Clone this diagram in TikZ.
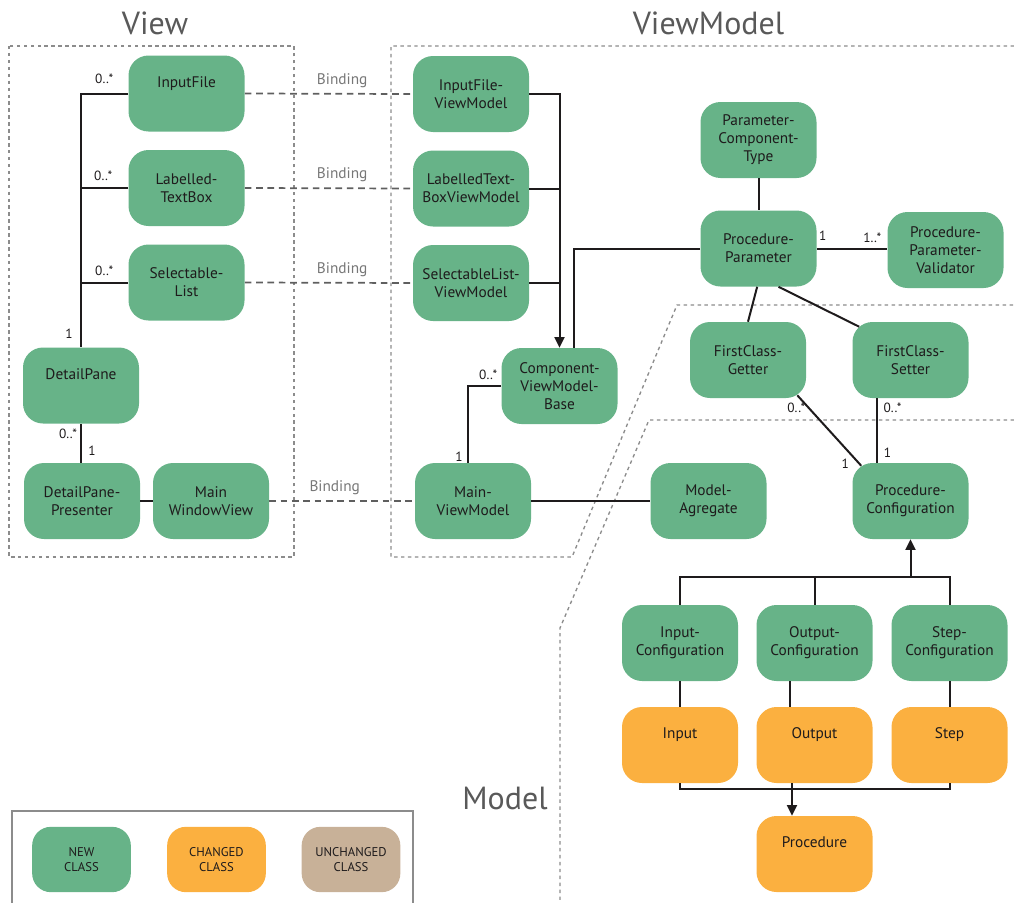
\documentclass[tikz,border=0pt]{standalone}
\usepackage{fontspec}
\setmainfont{PT Sans}
\usetikzlibrary{arrows.meta,calc}
\definecolor{newcls}{RGB}{103,179,136}
\definecolor{chgcls}{RGB}{251,176,64}
\definecolor{unchcls}{RGB}{200,177,152}
\definecolor{inkc}{RGB}{30,27,28}
\definecolor{zonec}{RGB}{140,140,140}
\definecolor{bindc}{RGB}{95,95,95}
\definecolor{titlec}{RGB}{89,89,89}
\begin{document}
\begin{tikzpicture}[x=0.75pt,y=-0.75pt,
  cls/.style={rounded corners=15pt, minimum width=87pt, minimum height=57pt,
    inner sep=0pt, align=center, font=\fontsize{11.5}{13.5}\selectfont, text=inkc},
  newc/.style={cls, fill=newcls},
  chg/.style={cls, fill=chgcls},
  legendc/.style={rounded corners=14pt, minimum width=74pt, minimum height=49pt,
    inner sep=0pt, align=center, font=\fontsize{9.5}{11}\selectfont, text=inkc},
  zone/.style={draw=zonec, line width=1pt, dash pattern=on 2.6pt off 2.6pt},
  assoc/.style={draw=inkc, line width=1.5pt},
  gen/.style={assoc, -{Triangle[length=8pt,width=7.5pt]}},
  binding/.style={draw=bindc, line width=1.3pt, dash pattern=on 5pt off 3.5pt},
  bindlbl/.style={font=\fontsize{11.5}{13}\selectfont, text=bindc!85, inner sep=1pt},
  mult/.style={font=\fontsize{10}{12}\selectfont, text=inkc, inner sep=0pt},
  title/.style={font=\fontsize{24}{28}\selectfont, text=titlec, inner sep=0pt}
]
\useasboundingbox (0,0) rectangle (1014,903);

% layer boundaries
\draw[zone] (9,46) rectangle (294,557);
\draw[zone] (1014,46) -- (391,46) -- (391,557) -- (572,557) -- (677,305) -- (1014,305);
\draw[zone] (1014,420) -- (649,420) -- (560,628) -- (560,903);

\node[title] (tview) at (155,23) {View};
\node[title] (tvm) at (708.5,23) {ViewModel};
\node[title] (tmodel) at (505,798) {Model};

% View classes
\node[newc] (if)  at (186.5,93.5) {InputFile\\\strut};
\node[newc] (ltb) at (186.5,188) {Labelled-\\TextBox};
\node[newc] (sl)  at (186.5,282.5) {Selectable-\\List};
\node[newc] (dp)  at (81,385.5) {DetailPane\\\strut};
\node[newc] (dpp) at (82,501) {DetailPane-\\Presenter};
\node[newc] (mwv) at (211,501) {Main\\WindowView};

% ViewModel classes
\node[newc] (ifvm)  at (471,94) {InputFile-\\ViewModel};
\node[newc] (ltbvm) at (471,188.5) {LabelledText-\\BoxViewModel};
\node[newc] (slvm)  at (471,283) {SelectableList-\\ViewModel};
\node[newc] (cvmb)  at (559.5,386) {Component-\\ViewModel-\\Base};
\node[newc] (mvm)   at (473,501) {Main-\\ViewModel};
\node[newc] (pct)   at (758.5,140) {Parameter-\\Component-\\Type};
\node[newc] (pp)    at (758.5,248.5) {Procedure-\\Parameter};
\node[newc] (ppv)   at (945.5,250) {Procedure-\\Parameter-\\Validator};
\node[newc] (fcg)   at (748,360) {FirstClass-\\Getter};
\node[newc] (fcs)   at (910.5,360) {FirstClass-\\Setter};

% Model classes
\node[newc] (ma)  at (708.5,501) {Model-\\Agregate};
\node[newc] (pc)  at (910.5,501) {Procedure-\\Configuration};
\node[newc] (ic)  at (680,643) {Input-\\Configuration};
\node[newc] (oc)  at (814.5,643) {Output-\\Configuration};
\node[newc] (sc)  at (949.5,643) {Step-\\Configuration};
\node[chg] (in)   at (680,745) {Input\\\strut};
\node[chg] (out)  at (814.5,745) {Output\\\strut};
\node[chg] (st)   at (949.5,745) {Step\\\strut};
\node[chg] (proc) at (814.5,854) {Procedure\\\strut};

% legend
\draw[draw=zonec, line width=0.8pt] (12,903) -- (12,811) -- (413,811) -- (413,903);
\node[legendc, fill=newcls]  (lnew) at (81.5,859.5) {NEW\\CLASS};
\node[legendc, fill=chgcls]  (lchg) at (216.5,859.5) {CHANGED\\CLASS};
\node[legendc, fill=unchcls] (lunc) at (351,859.5) {UNCHANGED\\CLASS};

% View associations
\draw[assoc] (if.west) -| (dp.north);
\draw[assoc] (ltb.west) -- (ltb.west -| dp.north);
\draw[assoc] (sl.west) -- (sl.west -| dp.north);
\draw[assoc] (dp.south) -- (dp.south |- dpp.north);
\draw[assoc] (dpp.east) -- (mwv.west);
\node[mult] (m1) at ($(if.west)+(-24,-15)$) {0..*};
\node[mult] (m2) at ($(ltb.west)+(-25,-12)$) {0..*};
\node[mult] (m3) at ($(sl.west)+(-24,-12)$) {0..*};
\node[mult] (m4) at ($(dp.north)+(-12,-13)$) {1};
\node[mult] (m5) at ($(dp.south)+(-13,10)$) {0..*};
\node[mult] (m6) at ($(dpp.north)+(10,-12)$) {1};

% bindings between View and ViewModel
\draw[binding] (if.east) -- node[bindlbl, pos=0.58, above=3pt] (b1) {Binding} (ifvm.west);
\draw[binding] (ltb.east) -- node[bindlbl, pos=0.58, above=3pt] (b2) {Binding} (ltbvm.west);
\draw[binding] (sl.east) -- node[bindlbl, pos=0.58, above=3pt] (b3) {Binding} (slvm.west);
\draw[binding] (mwv.east) -- node[bindlbl, pos=0.45, above=3pt] (b4) {Binding} (mvm.west);

% ViewModel associations
\draw[gen] (ifvm.east) -| (cvmb.north);
\draw[assoc] (ltbvm.east) -- (ltbvm.east -| cvmb.north);
\draw[assoc] (slvm.east) -- (slvm.east -| cvmb.north);
\draw[assoc] (pp.west) -| ([xshift=11pt]cvmb.north);
\draw[assoc] (cvmb.west) -| ([xshift=-4pt]mvm.north);
\draw[assoc] (mvm.east) -- (ma.west);
\draw[assoc] (pct.south) -- (pp.north);
\draw[assoc] (pp.east) -- (pp.east -| ppv.west);
\draw[assoc] ([xshift=-1pt]pp.south) -- (fcg.north);
\draw[assoc] ([xshift=15pt]pp.south) -- ($(fcs.north west)+(7,5)$);
\draw[assoc] ($(fcg.south east)+(-9,-3)$) -- ($(pc.north west)+(9,3)$);
\draw[assoc] ([xshift=-25pt]fcs.south) -- ([xshift=-25pt]pc.north);
\node[mult] (m7)  at ($(cvmb.west)+(-13,-11)$) {0..*};
\node[mult] (m8)  at ($(mvm.north)+(-14,-6)$) {1};
\node[mult] (m9)  at ($(pp.east)+(6,-13)$) {1};
\node[mult] (m10) at ($(ppv.west)+(-15,-12)$) {1..*};
\node[mult] (m11) at ($(fcg.south east)+(-10,10)$) {0..*};
\node[mult] (m12) at ($(pc.north west)+(-7,1)$) {1};
\node[mult] (m13) at ($(fcs.south)+(-18,10)$) {0..*};
\node[mult] (m14) at ($(pc.north)+(-23,-10)$) {1};

% configuration hierarchy
\coordinate (gbus) at ($(pc.south)+(0,38)$);
\draw[gen] (gbus) -- (pc.south);
\draw[assoc] (ic.north) |- (gbus) -| (sc.north);
\draw[assoc] (oc.north) -- (oc.north |- gbus);
\draw[assoc] (ic.south) -- (in.north);
\draw[assoc] ([xshift=-18.4pt]oc.south) -- ([xshift=-18.4pt]out.north);
\draw[assoc] (sc.south) -- (st.north);
\draw[assoc] (in.south) -- ++(0,6) -| (st.south);
\draw[gen] ([xshift=-16.9pt]out.south) -- ([xshift=-16.9pt]proc.north);
\end{tikzpicture}
\end{document}
